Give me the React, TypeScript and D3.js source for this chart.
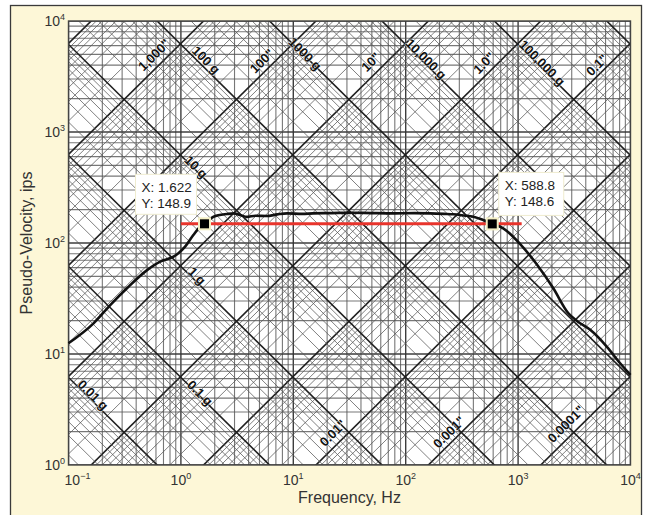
import React from 'react';
import * as d3 from 'd3';

// Shock response spectrum on a tripartite (four-coordinate) log grid.

const W = 651;
const H = 515;
const PLOT = { left: 68.5, right: 630.5, top: 21, bottom: 465 };
const G_IPS2 = 386.09; // 1 g in in/s^2

// Axis ticks
const freqTicks = [0.1, 1, 10, 100, 1000, 10000];
const freqTickExp = ['\u22121', '0', '1', '2', '3', '4'];
const pvTicks = [1, 10, 100, 1000, 10000];
const pvTickExp = ['0', '1', '2', '3', '4'];

// Pseudo-velocity spectrum (ips) vs natural frequency (Hz)
const freqHz = [
  0.1, 0.167, 0.235, 0.331, 0.5, 0.655, 0.86, 0.95, 1.09, 1.29, 1.485, 1.622,
  1.95, 2.57, 2.94, 3.4, 3.87, 4.6, 5.8, 7.2, 8.8, 12, 15, 22, 32, 50, 80, 120,
  165, 220, 265, 330, 400, 490, 588.8, 737, 1044, 1470, 2050, 2790, 3340, 4380,
  6170, 8090, 10000,
];
const pvIps = [
  12.5, 18.9, 27.6, 39.1, 57, 68, 75.3, 80.8, 92.6, 118, 140, 148.9,
  172.6, 182.5, 185, 178, 172, 176, 175, 181, 185, 183, 185, 186, 187.5, 186, 185, 186,
  185, 183, 181.4, 177, 172.6, 161, 148.6, 135.6, 97.9, 64, 39.3, 23.4, 19.8, 16.5,
  11.6, 8.25, 6.47,
];

// Data tips and the reference level between them
const tipFreq = [1.622, 588.8];
const tipPV = [148.9, 148.6];
const tipLines = [
  ['X: 1.622', 'Y: 148.9'],
  ['X: 588.8', 'Y: 148.6'],
];
const refLineFreq = [1.0, 1076];
const refLineLevel = 148.8;

// Diagonal scale labels: displacement (in) and acceleration (g)
const dispLabels = ['1,000"', '100"', '10"', '1.0"', '0.1"', '0.01"', '0.001"', '0.0001"'];
const dispLabelFreq = [0.577, 5.27, 49.1, 497.5, 5035, 22.5, 242.7, 2668];
const dispLabelPV = [4943, 4363, 4274, 4185, 4015, 1.94, 1.98, 2.34];

const accLabels = ['100 g', '1000 g', '10,000 g', '100,000 g', '10 g', '1 g', '0.1 g', '0.01 g'];
const accLabelFreq = [1.672, 12.7, 151.6, 1633, 1.362, 1.391, 1.479, 0.165];
const accLabelPV = [4454, 5045, 4546, 4185, 484, 50.4, 4.45, 4.27];

const FONT = '"Liberation Sans", Arial, Helvetica, sans-serif';

function logValues(minExp: number, maxExp: number) {
  const out: { v: number; major: boolean }[] = [];
  for (let e = minExp; e <= maxExp; e++) {
    for (let m = 1; m <= 9; m++) out.push({ v: m * Math.pow(10, e), major: m === 1 });
  }
  return out;
}

export default function App() {
  const x = d3.scaleLog().domain([0.1, 10000]).range([PLOT.left, PLOT.right]);
  const y = d3.scaleLog().domain([1, 10000]).range([PLOT.bottom, PLOT.top]);
  const f0 = 0.1;
  const f1 = 10000;

  const vLines = logValues(-1, 3).concat([{ v: 10000, major: true }]);
  const hLines = logValues(0, 3).concat([{ v: 10000, major: true }]);
  const dispLines = logValues(-6, 5); // inches
  const accLines = logValues(-4, 7); // g

  const curve = d3
    .line<number>()
    .x((_, i) => x(freqHz[i]))
    .y((d) => y(d))
    .curve(d3.curveMonotoneX)(pvIps) as string;

  const minorStroke = '#555';
  const majorStroke = '#1f1f1f';

  const tipBoxes = [
    { dx: -69, dy: -49.5, w: 61, h: 40 },
    { dx: 6.5, dy: -51.5, w: 65, h: 43 },
  ];

  return (
    <div style={{ position: 'absolute', left: 0, top: 0 }}>
      <svg width={W} height={H} style={{ display: 'block' }} fontFamily={FONT}>
        <defs>
          <clipPath id="plot-clip">
            <rect x={PLOT.left} y={PLOT.top} width={PLOT.right - PLOT.left} height={PLOT.bottom - PLOT.top} />
          </clipPath>
        </defs>
        <rect x={0} y={0} width={W} height={H} fill="#ffffff" />
        <rect x={10.5} y={5.5} width={631} height={H + 10} fill="#fdf7d7" stroke="#3a3a3a" strokeWidth={1.3} />
        <rect x={PLOT.left} y={PLOT.top} width={PLOT.right - PLOT.left} height={PLOT.bottom - PLOT.top} fill="#ffffff" />

        <g clipPath="url(#plot-clip)" fill="none">
          {vLines.map((d, i) => (
            <line key={'v' + i} x1={x(d.v)} x2={x(d.v)} y1={PLOT.top} y2={PLOT.bottom}
              stroke={d.major ? '#333' : minorStroke} strokeWidth={d.major ? 1.4 : 1.1} strokeOpacity={d.major ? 0.95 : 0.8} />
          ))}
          {hLines.map((d, i) => (
            <line key={'h' + i} x1={PLOT.left} x2={PLOT.right} y1={y(d.v)} y2={y(d.v)}
              stroke={d.major ? '#333' : minorStroke} strokeWidth={d.major ? 1.4 : 1.1} strokeOpacity={d.major ? 0.95 : 0.8} />
          ))}
          {dispLines.map((d, i) => (
            <line key={'d' + i}
              x1={x(f0)} y1={y(2 * Math.PI * f0 * d.v)}
              x2={x(f1)} y2={y(2 * Math.PI * f1 * d.v)}
              stroke={d.major ? majorStroke : minorStroke} strokeWidth={d.major ? 1.6 : 1} strokeOpacity={d.major ? 1 : 0.75} />
          ))}
          {accLines.map((d, i) => (
            <line key={'a' + i}
              x1={x(f0)} y1={y((d.v * G_IPS2) / (2 * Math.PI * f0))}
              x2={x(f1)} y2={y((d.v * G_IPS2) / (2 * Math.PI * f1))}
              stroke={d.major ? majorStroke : minorStroke} strokeWidth={d.major ? 1.6 : 1} strokeOpacity={d.major ? 1 : 0.75} />
          ))}
        </g>
        <rect x={PLOT.left} y={PLOT.top} width={PLOT.right - PLOT.left} height={PLOT.bottom - PLOT.top}
          fill="none" stroke="#444" strokeWidth={1.4} />

        {/* diagonal scale labels */}
        <g fill="#111" fontSize={13} fontWeight={600} textAnchor="middle" dominantBaseline="central"
          stroke="#ffffff" strokeWidth={1.6} strokeOpacity={0.55} style={{ paintOrder: 'stroke' }}>
          {dispLabels.map((t, i) => (
            <text key={'dl' + i}
              transform={`translate(${x(dispLabelFreq[i])},${y(dispLabelPV[i])}) rotate(-45)`}>{t}</text>
          ))}
          {accLabels.map((t, i) => (
            <text key={'al' + i}
              transform={`translate(${x(accLabelFreq[i])},${y(accLabelPV[i])}) rotate(45)`}>{t}</text>
          ))}
        </g>

        {/* reference level and spectrum */}
        <line x1={x(refLineFreq[0])} x2={x(refLineFreq[1])} y1={y(refLineLevel)} y2={y(refLineLevel)}
          stroke="#e8342c" strokeWidth={3} />
        <path d={curve} fill="none" stroke="#111" strokeWidth={2.6} strokeLinejoin="round" />

        {/* data tips */}
        {tipFreq.map((f, i) => {
          const mx = x(f);
          const my = y(tipPV[i]);
          const b = tipBoxes[i];
          return (
            <g key={'tip' + i}>
              <rect x={mx + b.dx} y={my + b.dy} width={b.w} height={b.h} fill="#ffffff" stroke="#efeccf" strokeWidth={1} />
              {tipLines[i].map((s, j) => (
                <text key={j} x={mx + b.dx + 6} y={my + b.dy + 18 + j * 16} fontSize={13.5} fill="#222">{s}</text>
              ))}
              <rect x={mx - 5.5} y={my - 5.5} width={11} height={11} fill="#000" stroke="#f3eec4" strokeWidth={2} />
            </g>
          );
        })}

        {/* axis tick labels */}
        <g fill="#333" fontSize={14}>
          {freqTicks.map((f, i) => (
            <text key={'xt' + i} x={x(f) + (i === 0 ? 9 : 0)} y={485} textAnchor="middle">
              10<tspan dy={-6} fontSize={9}>{freqTickExp[i]}</tspan>
            </text>
          ))}
          {pvTicks.map((v, i) => (
            <text key={'yt' + i} x={65} y={y(v) + 5} textAnchor="end">
              10<tspan dy={-6} fontSize={9}>{pvTickExp[i]}</tspan>
            </text>
          ))}
        </g>

        {/* axis titles */}
        <text x={(PLOT.left + PLOT.right) / 2} y={503} textAnchor="middle" fontSize={16} fill="#333">Frequency, Hz</text>
        <text transform={`translate(32,${(PLOT.top + PLOT.bottom) / 2}) rotate(-90)`} textAnchor="middle" fontSize={16} fill="#333">
          Pseudo-Velocity, ips
        </text>
      </svg>
    </div>
  );
}
